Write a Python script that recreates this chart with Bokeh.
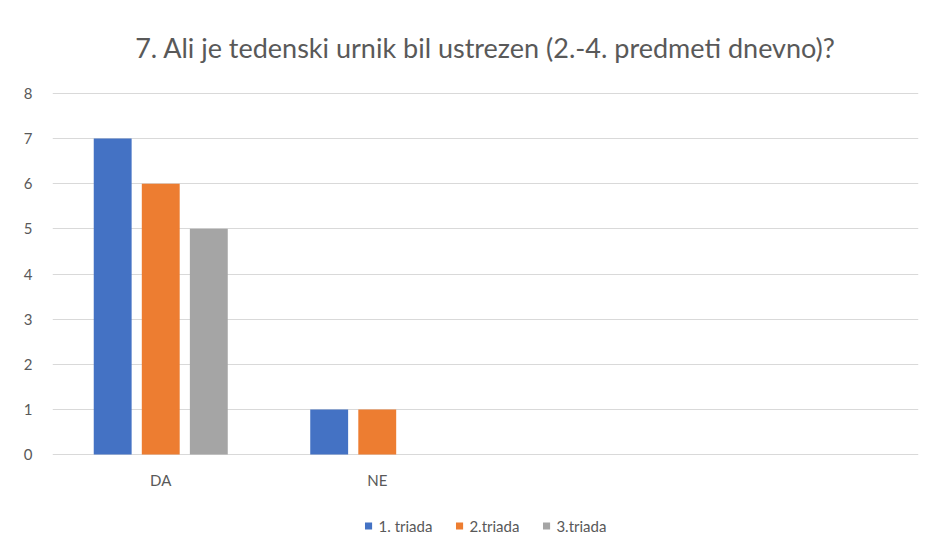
from bokeh.plotting import figure
from bokeh.models import FactorRange, Legend, LegendItem, ColumnDataSource, Range1d
from bokeh.layouts import column
from bokeh.transform import dodge
from bokeh.embed import file_html
from bokeh.resources import INLINE

title = "7. Ali je tedenski urnik bil ustrezen (2.-4. predmeti dnevno)?"
factors = ["DA", "NE", " ", "  "]
cats = ["DA", "NE"]
triada1 = [7, 1]
triada2 = [6, 1]
triada3 = [5, 0]
series = ["1. triada", "2.triada", "3.triada"]
colors = ["#4472C4", "#ED7D31", "#A5A5A5"]
yticks = [0, 1, 2, 3, 4, 5, 6, 7, 8]

FONT = "Lato"
GREY = "#595959"

src = ColumnDataSource(dict(x=cats, t1=triada1, t2=triada2, t3=triada3))

p = figure(frame_width=866, frame_height=363,
           x_range=FactorRange(*factors, range_padding=0),
           y_range=Range1d(-0.02, 8.02), output_backend="svg", toolbar_location=None,
           min_border_left=52, min_border_right=18, min_border_top=92,
           min_border_bottom=44)

p.title.text = title
p.title.align = "center"
p.title.text_font = FONT
p.title.text_font_size = "27px"
p.title.text_font_style = "normal"
p.title.text_color = GREY
p.title.standoff = 57

for key, off, col in zip(["t1", "t2", "t3"], [-0.222, 0.0, 0.222], colors):
    p.vbar(x=dodge("x", off, range=p.x_range), top=key, width=0.175,
           source=src, fill_color=col, line_color=None)

p.outline_line_color = None
p.xgrid.grid_line_color = None
p.ygrid.grid_line_color = "#D9D9D9"
p.ygrid.grid_line_width = 1
p.yaxis.ticker = yticks

for ax in (p.xaxis, p.yaxis):
    ax.axis_line_color = None
    ax.major_tick_line_color = None
    ax.minor_tick_line_color = None
    ax.major_label_text_font = FONT
    ax.major_label_text_font_size = "15px"
    ax.major_label_text_color = GREY

p.yaxis.major_label_standoff = 14
p.xaxis.major_label_standoff = 9

# legend strip
q = figure(width=936, height=53, output_backend="svg", toolbar_location=None,
           min_border_left=24, min_border_right=0, min_border_top=0,
           min_border_bottom=0, x_range=Range1d(0, 1), y_range=Range1d(0, 1))
q.axis.visible = False
q.grid.visible = False
q.outline_line_color = None
dummies = [q.vbar(x=[0.5], top=[0], bottom=[0], width=0.0, fill_color=c, line_color=None)
           for c in colors]

legend = Legend(items=[LegendItem(label=s, renderers=[r]) for s, r in zip(series, dummies)],
                orientation="horizontal", location="center",
                label_text_font=FONT, label_text_font_size="15px",
                label_text_color=GREY, glyph_width=9, glyph_height=9,
                spacing=22, label_standoff=6, border_line_color=None,
                background_fill_alpha=0, padding=2, margin=0)
q.add_layout(legend, "center")

layout = column(p, q, spacing=0)
open("out.html", "w").write(file_html(layout, INLINE))
